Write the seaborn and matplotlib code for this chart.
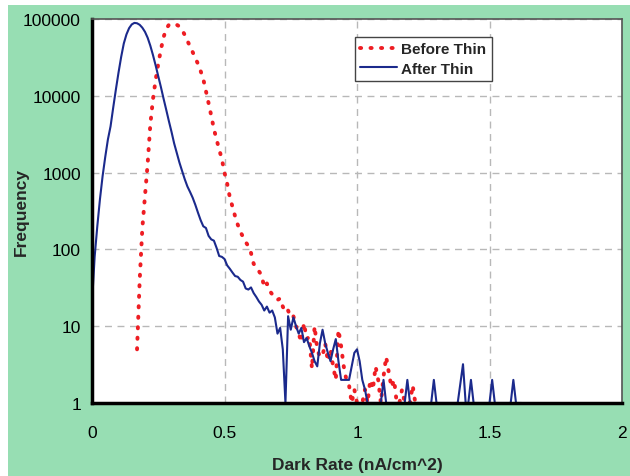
import numpy as np
import pandas as pd
import seaborn as sns
import matplotlib.pyplot as plt
from matplotlib.patches import Rectangle
from matplotlib.ticker import FixedLocator, MultipleLocator, FuncFormatter

# After Thin (blue), dark rate in nA/cm^2 vs frequency
after_x = [0.00, 0.01, 0.02, 0.03, 0.04, 0.05, 0.06, 0.07, 0.08, 0.09,
           0.10, 0.11, 0.12, 0.13, 0.14, 0.15, 0.16, 0.17, 0.18, 0.19,
           0.20, 0.21, 0.22, 0.23, 0.24, 0.25, 0.26, 0.27, 0.28, 0.29,
           0.30, 0.31, 0.32, 0.33, 0.34, 0.35, 0.36, 0.37, 0.38, 0.39,
           0.40, 0.41, 0.42, 0.43, 0.44, 0.45, 0.46, 0.47, 0.48, 0.49,
           0.50, 0.51, 0.52, 0.53, 0.54, 0.55, 0.56, 0.57, 0.58, 0.59,
           0.60, 0.61, 0.62, 0.63, 0.64, 0.65, 0.66, 0.67, 0.68, 0.69,
           0.70, 0.71, 0.72, 0.73, 0.74, 0.75, 0.76, 0.77, 0.78, 0.79,
           0.80, 0.81, 0.82, 0.83, 0.84, 0.85, 0.86, 0.87, 0.88, 0.89,
           0.90, 0.91, 0.92, 0.93, 0.94, 0.95, 0.96, 0.97, 0.98, 0.99,
           1.00, 1.01, 1.02, 1.03, 1.04, 1.09, 1.10, 1.11, 1.18, 1.19,
           1.20, 1.28, 1.29, 1.30, 1.38, 1.40, 1.41, 1.42, 1.43, 1.44,
           1.50, 1.51, 1.52, 1.58, 1.59, 1.60, 1.62]
after_y = [20, 80, 200, 450, 900, 1600, 2700, 4000, 7000, 12000,
           20000, 32000, 48000, 63000, 76000, 85000, 89000, 88000, 84000, 77000,
           68000, 57000, 45000, 34000, 25000, 18000, 13000, 9200, 6600, 4700,
           3400, 2400, 1800, 1350, 1050, 820, 660, 560, 470, 380,
           300, 240, 200, 190, 150, 135, 130, 105, 82, 80,
           75, 62, 56, 50, 45, 44, 40, 38, 31, 30,
           32, 27, 24, 21, 19, 16, 18, 15, 16, 13,
           8, 9.5, 5, 1, 13.5, 9, 13, 10, 8, 9.5,
           6.2, 7, 5.5, 4.5, 3.5, 3, 6, 9, 6, 4.5,
           3.5, 5, 6.8, 3.5, 2, 2, 2, 2, 3, 4.5,
           5, 3.5, 2, 1.5, 1, 1, 2, 1, 1, 2,
           1, 1, 2, 1, 1, 3.2, 1, 1, 2, 1,
           1, 2, 1, 1, 2, 1, 1]

# Before Thin (red, dotted)
before_x = [0.17, 0.18, 0.19, 0.20, 0.21, 0.22, 0.23, 0.24, 0.25, 0.26,
            0.27, 0.28, 0.29, 0.30, 0.31, 0.32, 0.33, 0.34, 0.35, 0.36,
            0.37, 0.38, 0.39, 0.40, 0.41, 0.42, 0.43, 0.44, 0.45, 0.46,
            0.47, 0.48, 0.49, 0.50, 0.51, 0.52, 0.53, 0.54, 0.55, 0.56,
            0.57, 0.58, 0.59, 0.60, 0.61, 0.62, 0.63, 0.64, 0.65, 0.66,
            0.67, 0.68, 0.69, 0.70, 0.71, 0.72, 0.73, 0.74, 0.75, 0.76,
            0.77, 0.78, 0.79, 0.80, 0.81, 0.82, 0.83, 0.84, 0.85, 0.86,
            0.87, 0.88, 0.89, 0.90, 0.91, 0.92, 0.93, 0.94, 0.95, 0.96,
            0.97, 0.98, 0.99, 1.00, 1.01, 1.02, 1.03, 1.04, 1.05, 1.06,
            1.07, 1.08, 1.09, 1.10, 1.11, 1.12, 1.13, 1.14, 1.15, 1.16,
            1.17, 1.18, 1.19, 1.20, 1.21, 1.22]
before_y = [5, 40, 190, 500, 1300, 4200, 9000, 16000, 26000, 40000,
            58000, 74000, 84000, 87000, 86000, 84000, 80000, 72000, 62000, 52000,
            44000, 37000, 31000, 26000, 21000, 16500, 11500, 8000, 5500, 3700,
            2700, 2000, 1500, 1000, 720, 480, 360, 270, 210, 170,
            145, 125, 110, 90, 65, 58, 52, 46, 32, 36,
            29, 26, 24, 22, 23, 18, 15, 16, 13, 13.5,
            10, 8, 6.2, 11, 6.8, 7.3, 2.8, 10, 5, 4,
            4.1, 6, 3.5, 5, 3, 2, 9, 5.5, 3, 2,
            1.7, 1, 1.5, 1, 1, 1, 1.5, 1, 2, 1.5,
            3, 2, 1, 2.2, 4, 2.5, 1.6, 2, 1, 1,
            1.5, 1, 1, 1, 1.7, 1]

y_ticks = [1, 10, 100, 1000, 10000, 100000]
x_ticks = [0, 0.5, 1, 1.5, 2]

sns.set_style("white")
plt.rcParams['font.family'] = ['Liberation Sans', 'DejaVu Sans']

fig = plt.figure(figsize=(6.3, 4.77), dpi=100, facecolor='white')
# green page background from the scan
fig.patches.append(Rectangle((8 / 630, 0), 1, 1 - 6 / 477, transform=fig.transFigure,
                             facecolor='#97deb3', edgecolor='none', zorder=-10))
ax = fig.add_axes([92 / 630, 1 - 404 / 477, 530 / 630, 384 / 477])
ax.set_facecolor('white')

before_df = pd.DataFrame({'x': before_x, 'y': before_y})
after_df = pd.DataFrame({'x': after_x, 'y': after_y})

sns.lineplot(data=before_df, x='x', y='y', ax=ax, sort=False, estimator=None,
             color='#ee1d23', linewidth=2.8, linestyle=(0, (0.3, 2.4)),
             dash_capstyle='round', label='Before Thin')
sns.lineplot(data=after_df, x='x', y='y', ax=ax, sort=False, estimator=None,
             color='#1b2a8c', linewidth=1.5, label='After Thin')

ax.set_yscale('log')
ax.set_ylim(1, 100000)
ax.set_xlim(0, 2)

ax.yaxis.set_major_locator(FixedLocator(y_ticks))
ax.yaxis.set_minor_locator(FixedLocator([]))
ax.yaxis.set_major_formatter(FuncFormatter(lambda v, p: f"{int(round(v))}"))
ax.xaxis.set_major_locator(FixedLocator(x_ticks))
ax.xaxis.set_minor_locator(MultipleLocator(0.1))
ax.xaxis.set_major_formatter(FuncFormatter(lambda v, p: f"{v:g}"))

ax.tick_params(axis='both', which='both', direction='out', color='black',
               width=1.5, labelsize=12.5, labelcolor='black')
ax.tick_params(axis='x', which='both', length=5, pad=11)
ax.tick_params(axis='y', which='both', length=5, pad=3)

ax.grid(True, which='major', linestyle=(0, (5, 4)), color='#b8b8b8', linewidth=1)
ax.set_axisbelow(True)

for side in ['left', 'bottom']:
    ax.spines[side].set_linewidth(2.5)
    ax.spines[side].set_color('black')
for side in ['top', 'right']:
    ax.spines[side].set_linewidth(1.2)
    ax.spines[side].set_color('#555555')

ax.set_xlabel('Dark Rate (nA/cm^2)', fontsize=12.5, fontweight='bold', labelpad=12)
ax.set_ylabel('Frequency', fontsize=12.5, fontweight='heavy')
ax.yaxis.set_label_coords(-0.12, 0.5)

leg = ax.legend(loc='upper left', bbox_to_anchor=(0.496, 0.953), borderaxespad=0,
                frameon=True, fancybox=False, framealpha=1, edgecolor='#444444',
                prop={'weight': 'bold', 'size': 11}, handlelength=2.4,
                handletextpad=0.3, borderpad=0.35, labelspacing=0.35)
leg.get_frame().set_linewidth(1.0)

fig.savefig('out.png', dpi=100, facecolor=fig.get_facecolor())
